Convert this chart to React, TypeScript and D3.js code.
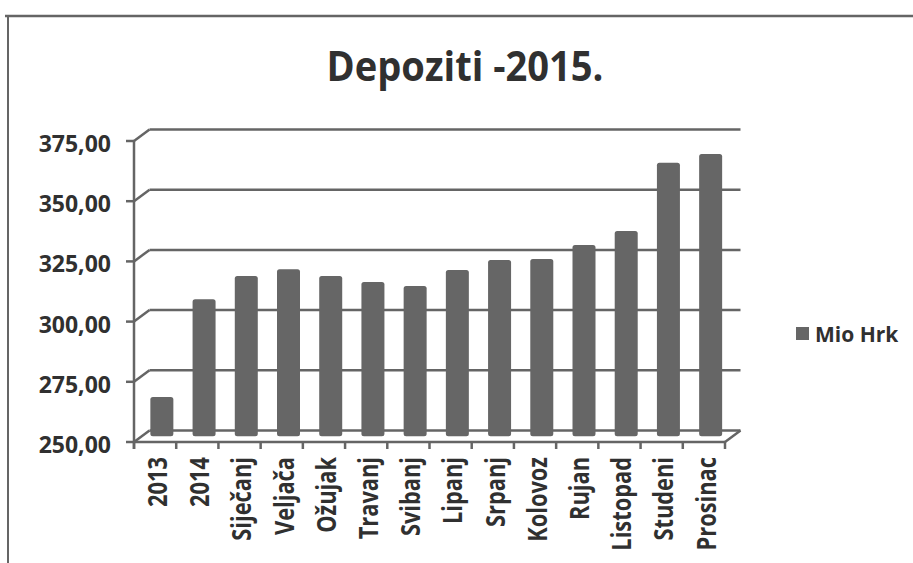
import React from "react";
import * as d3 from "d3";

const categories = ["2013", "2014", "Siječanj", "Veljača", "Ožujak", "Travanj", "Svibanj", "Lipanj", "Srpanj", "Kolovoz", "Rujan", "Listopad", "Studeni", "Prosinac"];
const values = [266.3, 306.9, 316.6, 319.4, 316.5, 314.1, 312.4, 319.0, 323.2, 323.6, 329.4, 335.2, 363.6, 367.2];
const yTicks = [250, 275, 300, 325, 350, 375];
const seriesName = "Mio Hrk";
const title = "Depoziti -2015.";

const W = 913;
const H = 563;
const LINE = "#656565";
const BAR = "#666666";
const TEXT = "#303030";
const FONT = "'Open Sans', 'DejaVu Sans', sans-serif";

export default function App() {
  const x = d3.scaleBand<string>().domain(categories).range([134, 725]).padding(0);
  const y = d3.scaleLinear().domain([250, 375]).range([442, 141]);
  const dx = 15.5;
  const dy = -11.5;
  const bw = x.bandwidth();
  const barW = 23;
  const loc = d3.formatLocale({ decimal: ",", thousands: ".", grouping: [3], currency: ["", ""] });
  const fmt = loc.format(".2f");
  const x0 = x.range()[0];
  const x1 = x.range()[1];
  const boundaries = d3.range(categories.length + 1).map((i) => x0 + i * bw);
  const SW = 2.5;

  return (
    <svg width={W} height={H} style={{ position: "absolute", left: 0, top: 0, background: "#fff" }}>
      {/* outer frame */}
      <line x1={5} y1={16} x2={W} y2={16} stroke={LINE} strokeWidth={2.5} />
      <line x1={8} y1={15} x2={8} y2={H} stroke={LINE} strokeWidth={2} />

      <text x={465} y={81} textAnchor="middle" fontFamily={FONT} fontWeight="bold" fontSize={42} fill={TEXT} textLength={277} lengthAdjust="spacingAndGlyphs">
        {title}
      </text>

      {/* back wall gridlines + left wall diagonals */}
      {yTicks.map((t) => (
        <g key={t}>
          <line x1={x0} y1={y(t)} x2={x0 + dx} y2={y(t) + dy} stroke={LINE} strokeWidth={SW} />
          <line x1={x0 + dx} y1={y(t) + dy} x2={x1 + dx} y2={y(t) + dy} stroke={LINE} strokeWidth={SW} />
          <line x1={x0 - 8} y1={y(t)} x2={x0} y2={y(t)} stroke={LINE} strokeWidth={SW} />
          <text x={111} y={y(t) + 2} textAnchor="end" dominantBaseline="central" fontFamily={FONT} fontWeight="bold" fontSize={23} fill={TEXT}>
            {fmt(t)}
          </text>
        </g>
      ))}

      {/* floor front edge and right edge */}
      <line x1={x0} y1={y(250)} x2={x1} y2={y(250)} stroke={LINE} strokeWidth={SW} />
      <line x1={x1} y1={y(250)} x2={x1 + dx} y2={y(250) + dy} stroke={LINE} strokeWidth={SW} />
      {/* y axis */}
      <line x1={x0} y1={y(375)} x2={x0} y2={y(250) + 7} stroke={LINE} strokeWidth={SW} />
      {/* x ticks */}
      {boundaries.map((bx, i) => (
        <line key={i} x1={bx} y1={y(250)} x2={bx} y2={y(250) + 7} stroke={LINE} strokeWidth={SW} />
      ))}

      {/* bars */}
      {categories.map((c, i) => {
        const bx = (x(c) as number) + dx / 2 + (bw - barW) / 2 - 1;
        const top = y(values[i]) + dy / 2;
        const bottom = y(250) + dy / 2;
        return <rect key={c} x={bx} y={top} width={barW} height={bottom - top} rx={2.5} fill={BAR} />;
      })}

      {/* category labels */}
      {categories.map((c) => {
        const cx = (x(c) as number) + bw / 2 + 1.5;
        return (
          <text
            key={c}
            transform={`translate(${cx},457) rotate(-90) scale(0.84,1)`}
            textAnchor="end"
            dominantBaseline="central"
            fontFamily={FONT}
            fontWeight="bold"
            fontSize={26}
            fill={TEXT}
          >
            {c}
          </text>
        );
      })}

      {/* legend */}
      <rect x={796} y={327} width={13} height={13} fill={BAR} />
      <text x={815} y={334} dominantBaseline="central" fontFamily={FONT} fontWeight="bold" fontSize={21} fill={TEXT}>
        {seriesName}
      </text>
    </svg>
  );
}
